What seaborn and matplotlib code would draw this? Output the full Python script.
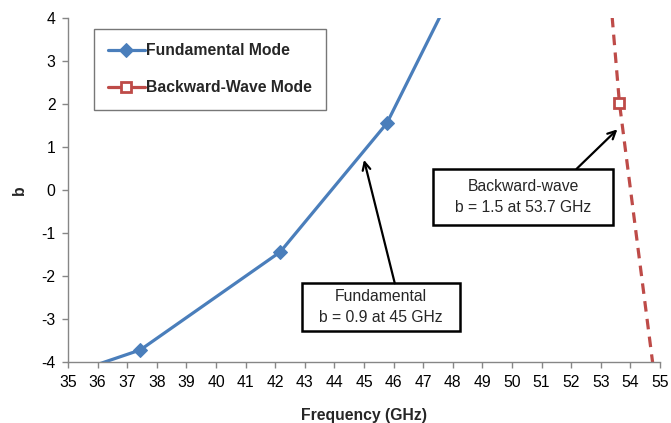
import matplotlib
matplotlib.use("Agg")
import matplotlib.pyplot as plt
from matplotlib.patches import Rectangle
import seaborn as sns
import pandas as pd

# ---- data ----
fund_freq = [35.0, 37.44, 42.17, 45.77, 48.5]
fund_b = [-4.29, -3.72, -1.44, 1.55, 5.32]
back_freq = [53.14, 53.63, 55.12]
back_b = [6.0, 2.02, -6.0]
series_names = ["Fundamental Mode", "Backward-Wave Mode"]
x_ticks = list(range(35, 56))
y_ticks = [-4, -3, -2, -1, 0, 1, 2, 3, 4]
fund_note = "Fundamental\nb = 0.9 at 45 GHz"
back_note = "Backward-wave\nb = 1.5 at 53.7 GHz"

BLUE = "#4A7EBB"
RED = "#BE4B48"
GREY = "#868686"
FS = 11.3

sns.set_style("white")
plt.rcParams["font.family"] = ["Liberation Sans", "DejaVu Sans"]

fig = plt.figure(figsize=(6.71, 4.23), dpi=100)
ax = fig.add_axes([68 / 671, 1 - 362 / 423, 592 / 671, 344 / 423])

df_f = pd.DataFrame({"freq": fund_freq, "b": fund_b})
df_b = pd.DataFrame({"freq": back_freq, "b": back_b})

sns.lineplot(data=df_f, x="freq", y="b", sort=False, estimator=None, ax=ax,
             color=BLUE, lw=2.3, marker="D", markersize=7.5,
             markerfacecolor=BLUE, markeredgecolor=BLUE, label=series_names[0])
sns.lineplot(data=df_b, x="freq", y="b", sort=False, estimator=None, ax=ax,
             color=RED, lw=2.3, dashes=(3.3, 2.3), marker="s", markersize=7.5,
             markerfacecolor="white", markeredgecolor=RED, markeredgewidth=2,
             label=series_names[1])

ax.set_xlim(35, 55)
ax.set_ylim(-4, 4)
ax.set_xticks(x_ticks)
ax.set_yticks(y_ticks)
ax.set_xticklabels([str(t) for t in x_ticks])
ax.set_yticklabels([str(t) for t in y_ticks])

for s in ["top", "right"]:
    ax.spines[s].set_visible(False)
for s in ["left", "bottom"]:
    ax.spines[s].set_color(GREY)
    ax.spines[s].set_linewidth(1.0)
ax.tick_params(axis="both", which="major", direction="out", length=4,
               width=1.0, color=GREY, labelsize=FS, labelcolor="black", pad=5,
               bottom=True, left=True)

ax.set_xlabel("Frequency (GHz)", fontsize=FS, fontweight="bold", labelpad=13)
ax.set_ylabel("b", fontsize=FS, fontweight="bold", labelpad=10)

leg = ax.legend(loc="upper left", bbox_to_anchor=(0.0444, 0.967),
                frameon=True, fancybox=False, edgecolor="#555555",
                prop={"weight": "bold", "size": FS}, handlelength=2.3,
                handletextpad=0.1, labelspacing=1.4, borderpad=0.9,
                borderaxespad=0)
leg.get_frame().set_linewidth(1.0)
for h in leg.get_lines():
    h.set_linestyle("-")

# annotation boxes
ax.add_patch(Rectangle((42.90, -3.27), 5.34, 1.10, fill=True, facecolor="white",
                       edgecolor="black", lw=1.8, zorder=5))
ax.text(45.57, -2.72, fund_note, ha="center", va="center", fontsize=FS,
        linespacing=1.5, zorder=6)
ax.annotate("", xy=(45.0, 0.70), xytext=(46.04, -2.17),
            arrowprops=dict(arrowstyle="->", lw=1.6, color="black",
                            shrinkA=0, shrinkB=0, mutation_scale=14), zorder=6)

ax.add_patch(Rectangle((47.34, -0.81), 6.08, 1.30, fill=True, facecolor="white",
                       edgecolor="black", lw=1.8, zorder=5))
ax.text(50.38, -0.16, back_note, ha="center", va="center", fontsize=FS,
        linespacing=1.5, zorder=6)
ax.annotate("", xy=(53.56, 1.41), xytext=(52.18, 0.49),
            arrowprops=dict(arrowstyle="->", lw=1.6, color="black",
                            shrinkA=0, shrinkB=0, mutation_scale=14), zorder=6)

fig.savefig("out.png", dpi=100)
